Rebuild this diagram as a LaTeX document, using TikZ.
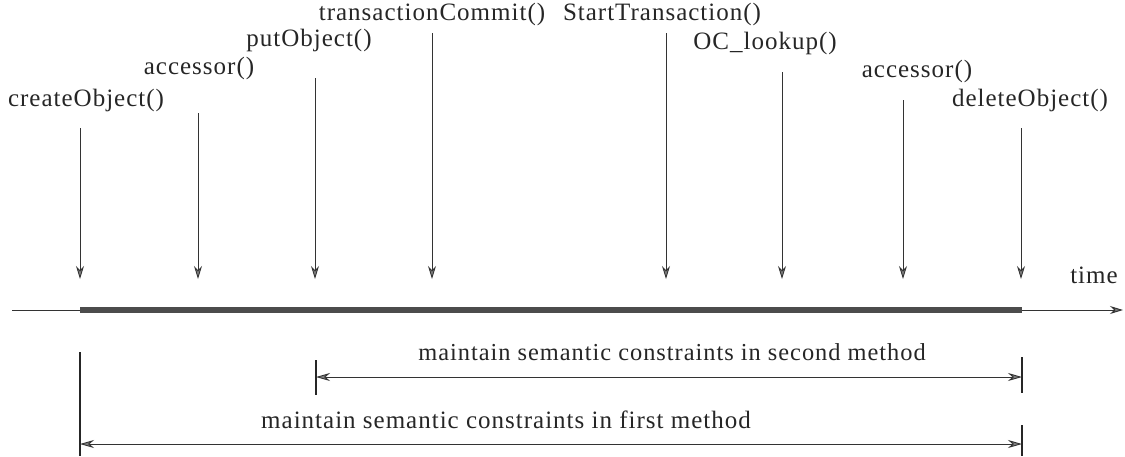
\documentclass[tikz,border=0pt]{standalone}
\usepackage{fontspec}
\setmainfont{Liberation Serif}
\newfontfamily\lblfont[LetterSpace=4]{Liberation Serif}
\usetikzlibrary{arrows.meta}
\begin{document}
\begin{tikzpicture}[x=1pt,y=-1pt,
  lbl/.style={font=\lblfont\fontsize{25}{27}\selectfont, inner sep=0pt, text=black!85},
  call/.style={draw=black!80, line width=0.9pt, -{Stealth[length=13pt,width=8pt,fill=black!50]}},
  tick/.style={draw=black!85, line width=1.1pt},
  span/.style={draw=black!80, line width=0.9pt, {Stealth[length=14pt,width=8pt,fill=black!50]}-{Stealth[length=14pt,width=8pt,fill=black!50]}}]
\useasboundingbox (0,0) rectangle (1125,456);
% labels
\node[lbl] (l1) at (86,100) {createObject()};
\node[lbl] (l2) at (199,68) {accessor()};
\node[lbl] (l3) at (309,40) {putObject()};
\node[lbl] (l4) at (432,14) {transactionCommit()};
\node[lbl] (l5) at (662,14) {StartTransaction()};
\node[lbl] (l6) at (765,43) {OC\_lookup()};
\node[lbl] (l7) at (917,71) {accessor()};
\node[lbl] (l8) at (1030,100) {deleteObject()};
\node[lbl] (tm) at (1094,275) {time};
% arrow start points
\coordinate (s1) at (80,128);
\coordinate (s2) at (198,113);
\coordinate (s3) at (315,78);
\coordinate (s4) at (432,33);
\coordinate (s5) at (666,33);
\coordinate (s6) at (782,72);
\coordinate (s7) at (903,100);
\coordinate (s8) at (1021,128);
% arrow end points
\coordinate (e1) at (80,279);
\coordinate (e2) at (198,279);
\coordinate (e3) at (315,279);
\coordinate (e4) at (432,279);
\coordinate (e5) at (666,279);
\coordinate (e6) at (782,279);
\coordinate (e7) at (903,279);
\coordinate (e8) at (1021,279);
\foreach \i in {1,...,8} {\draw[call] (s\i) -- (e\i);}
% timeline
\coordinate (t0) at (12,310);
\coordinate (ta) at (80,310);
\coordinate (tb) at (1022,310);
\coordinate (t1) at (1123,310);
\draw[draw=black!80, line width=1pt] (t0) -- (ta);
\draw[draw=black!70, line width=5.5pt] (ta) -- (tb);
\draw[draw=black!80, line width=1pt, -{Stealth[length=13pt,width=8pt,fill=black!50]}] (tb) -- (t1);
% ticks
\coordinate (k1a) at (80,352); \coordinate (k1b) at (80,456);
\coordinate (k2a) at (316,360); \coordinate (k2b) at (316,395);
\coordinate (k3a) at (1022,357); \coordinate (k3b) at (1022,393);
\coordinate (k4a) at (1022,425); \coordinate (k4b) at (1022,456);
\draw[tick] (k1a) -- (k1b);
\draw[tick] (k2a) -- (k2b);
\draw[tick] (k3a) -- (k3b);
\draw[tick] (k4a) -- (k4b);
% spans
\coordinate (p2a) at (316,377); \coordinate (p2b) at (1022,377);
\coordinate (p1a) at (80,444); \coordinate (p1b) at (1022,444);
\draw[span] (p2a) -- (p2b);
\draw[span] (p1a) -- (p1b);
\node[lbl, font=\lblfont\fontsize{24.4}{27}\selectfont] (m2) at (672,352) {maintain semantic constraints in second method};
\node[lbl] (m1) at (506,420) {maintain semantic constraints in first method};
\end{tikzpicture}
\end{document}
